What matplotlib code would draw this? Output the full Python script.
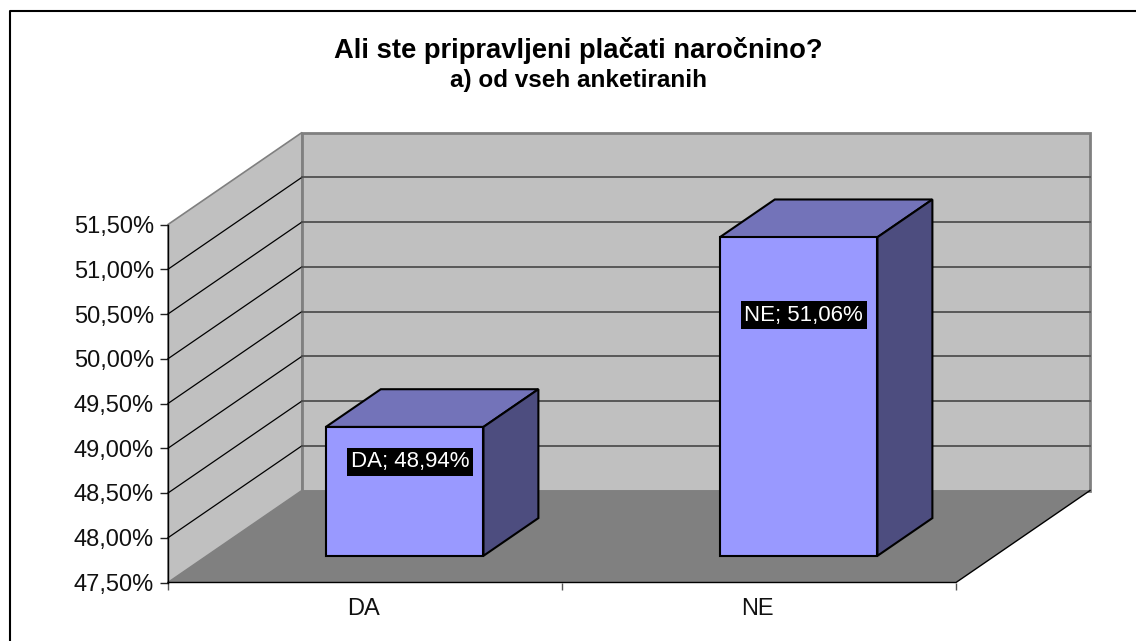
import numpy as np
import matplotlib
matplotlib.use("Agg")
import matplotlib.pyplot as plt
from matplotlib.lines import Line2D
from matplotlib.patches import Polygon

plt.rcParams['font.family'] = ['Liberation Sans', 'DejaVu Sans']

categories = ['DA', 'NE']
values = [48.94, 51.06]
value_labels = ['DA; 48,94%', 'NE; 51,06%']
y_ticks = [47.5, 48.0, 48.5, 49.0, 49.5, 50.0, 50.5, 51.0, 51.5]
y_labels = ['47,50%', '48,00%', '48,50%', '49,00%', '49,50%', '50,00%', '50,50%', '51,00%', '51,50%']

W, H = 1136, 641
# front plane in pixels, the depth goes up and to the right
X0, X1 = 168, 956
Y0, Y1 = 582.5, 224.5
DX, DY = 134, -92
BAR_W = 0.4
BAR_SHIFT = 0.002
BAR_START = 0.29
BAR_DEPTH = 0.41

fig = plt.figure(figsize=(W / 100, H / 100), dpi=100)
# axes spans the front plane, data x is category position and y is percent
ax = fig.add_axes([X0 / W, 1 - Y0 / H, (X1 - X0) / W, (Y0 - Y1) / H])
ax.set_xlim(0, len(categories))
ax.set_ylim(y_ticks[0], y_ticks[-1])
ax.patch.set_visible(False)
for s in ax.spines.values():
    s.set_visible(False)

ux = len(categories) / (X1 - X0)
uy = (y_ticks[-1] - y_ticks[0]) / (Y0 - Y1)


def proj(x, y, d=0.0):
    # d is the depth, 0 at the front and 1 at the back wall
    return (x + d * DX * ux, y - d * DY * uy)


def face(pts, color, edge, lw, z):
    ax.add_patch(Polygon([proj(*p) for p in pts], closed=True, facecolor=color,
                         edgecolor=edge, linewidth=lw, zorder=z, clip_on=False,
                         joinstyle='miter'))


ymin, ymax = y_ticks[0], y_ticks[-1]
xmax = len(categories)

# walls and floor
face([(0, ymin, 0), (0, ymax, 0), (0, ymax, 1), (0, ymin, 1)], '#c0c0c0', '#808080', 1.2, 1)
face([(0, ymin, 1), (0, ymax, 1), (xmax, ymax, 1), (xmax, ymin, 1)], '#c0c0c0', '#808080', 2, 1)
face([(0, ymin, 0), (xmax, ymin, 0), (xmax, ymin, 1), (0, ymin, 1)], '#808080', 'none', 0, 2)

# gridlines
for t in y_ticks[1:-1]:
    xs, ys = zip(proj(0, t, 0), proj(0, t, 1), proj(xmax, t, 1))
    ax.plot(xs[:2], ys[:2], color='black', lw=0.9, zorder=3, clip_on=False)
    ax.plot(xs[1:], ys[1:], color='#505050', lw=1.3, zorder=3, clip_on=False)

# floor edges
xs, ys = zip(proj(0, ymin, 0), proj(xmax, ymin, 0), proj(xmax, ymin, 1))
ax.plot(xs, ys, color='black', lw=1.0, zorder=4, clip_on=False)

# bars
for i, v in enumerate(values):
    x0 = i + 0.5 - BAR_W / 2 + BAR_SHIFT
    x1 = i + 0.5 + BAR_W / 2 + BAR_SHIFT
    d0 = BAR_START
    d1 = BAR_START + BAR_DEPTH
    face([(x0, v, d0), (x1, v, d0), (x1, v, d1), (x0, v, d1)], '#7373b9', 'black', 1.5, 5)
    face([(x1, ymin, d0), (x1, v, d0), (x1, v, d1), (x1, ymin, d1)], '#4d4d7f', 'black', 1.5, 5)
    face([(x0, ymin, d0), (x1, ymin, d0), (x1, v, d0), (x0, v, d0)], '#9999ff', 'black', 1.5, 6)
    lx, ly = proj(i + 0.515, v - (v - ymin) * 0.226 - 0.065, d0)
    ax.text(lx, ly, value_labels[i], color='white', fontsize=16, ha='center', va='center', zorder=7,
            bbox=dict(facecolor='black', edgecolor='none', pad=2.5))

# axis ticks and labels
ax.set_xticks(range(len(categories) + 1))
ax.set_xticklabels([''] * (len(categories) + 1))
ax.set_yticks(y_ticks)
ax.set_yticklabels(y_labels, fontsize=17, color='#111111')
ax.tick_params(axis='y', length=6, width=1, pad=4, color='#222222')
ax.tick_params(axis='x', length=5, width=1, color='#555555')
ax.plot([0, 0], [ymin, ymax], color='black', lw=1, zorder=4, clip_on=False)
for i, c in enumerate(categories):
    ax.annotate(c, (i + 0.5, ymin), xytext=(-1, -19), textcoords='offset points', ha='center',
                va='center', fontsize=17, color='#111111')

# chart frame, only top and left fall inside the picture
fig.add_artist(Line2D([9.5 / W, 9.5 / W, 1], [0, 1 - 11 / H, 1 - 11 / H], color='black', lw=1.5))
fig.text(578 / W, 1 - 58 / H, 'Ali ste pripravljeni plačati naročnino?', fontsize=19.7, fontweight='bold',
         ha='center', va='baseline')
fig.text(579 / W, 1 - 87 / H, 'a) od vseh anketiranih', fontsize=17.5, fontweight='bold',
         ha='center', va='baseline')

fig.savefig('out.png', dpi=100)
